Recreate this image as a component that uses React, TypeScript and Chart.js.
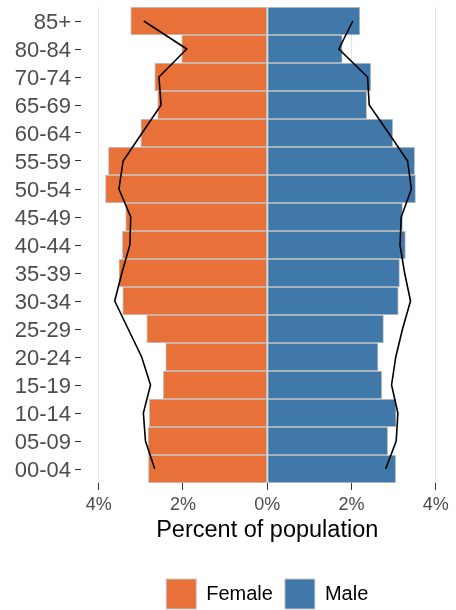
import React, { useEffect, useRef } from "react";
import { Chart, registerables } from "chart.js";

Chart.register(...registerables);

// Age groups, bottom (youngest) to top (oldest); note 75-79 is absent in the source
const ageGroups = [
  "00-04", "05-09", "10-14", "15-19", "20-24", "25-29", "30-34", "35-39",
  "40-44", "45-49", "50-54", "55-59", "60-64", "65-69", "70-74", "80-84", "85+",
];

// Percent of population (bars)
const femalePct = [2.82, 2.83, 2.80, 2.47, 2.41, 2.86, 3.43, 3.52, 3.44, 3.36, 3.84, 3.77, 3.00, 2.60, 2.67, 2.03, 3.24];
const malePct = [3.05, 2.86, 3.06, 2.72, 2.63, 2.76, 3.11, 3.14, 3.28, 3.21, 3.52, 3.50, 2.98, 2.36, 2.46, 1.78, 2.20];

// Comparison population (black outline)
const femaleRefPct = [2.67, 2.89, 2.94, 2.77, 2.98, 3.30, 3.62, 3.45, 3.26, 3.24, 3.52, 3.42, 2.97, 2.52, 2.57, 1.91, 2.93];
const maleRefPct = [2.81, 3.06, 3.10, 2.95, 3.05, 3.21, 3.40, 3.26, 3.15, 3.18, 3.42, 3.33, 2.88, 2.42, 2.38, 1.70, 2.03];

const xTickValues = [-4, -2, 0, 2, 4];
const seriesNames = ["Female", "Male"];

const FONT = "'Liberation Sans', Arial, Helvetica, sans-serif";

export default function App() {
  const canvasRef = useRef<HTMLCanvasElement>(null);

  useEffect(() => {
    if (!canvasRef.current) return;
    Chart.defaults.font.family = FONT;
    const chart = new Chart(canvasRef.current, {
      type: "bar",
      data: {
        labels: ageGroups,
        datasets: [
          {
            label: seriesNames[0],
            data: femalePct.map((v) => -v),
            backgroundColor: "#E8713A",
            borderColor: "#c8c8c8",
            borderWidth: 1,
            borderSkipped: false,
            barPercentage: 1,
            categoryPercentage: 1,
            order: 2,
          },
          {
            label: seriesNames[1],
            data: malePct,
            backgroundColor: "#4178AA",
            borderColor: "#c8c8c8",
            borderWidth: 1,
            borderSkipped: false,
            barPercentage: 1,
            categoryPercentage: 1,
            order: 2,
          },
          {
            type: "line",
            label: "Female reference",
            data: femaleRefPct.map((v) => -v),
            borderColor: "#000000",
            borderWidth: 1.6,
            pointRadius: 0,
            fill: false,
            tension: 0,
            indexAxis: "y",
            stack: "femaleRef",
            order: 1,
          } as any,
          {
            type: "line",
            label: "Male reference",
            data: maleRefPct,
            borderColor: "#000000",
            borderWidth: 1.6,
            pointRadius: 0,
            fill: false,
            tension: 0,
            indexAxis: "y",
            stack: "maleRef",
            order: 1,
          } as any,
        ],
      },
      options: {
        indexAxis: "y",
        animation: false,
        responsive: false,
        maintainAspectRatio: false,
        layout: { padding: { top: 7, bottom: -9, left: 0, right: 2.5 } },
        scales: {
          x: {
            type: "linear",
            stacked: true,
            min: -4.42,
            max: 4.42,
            afterBuildTicks: (s: any) => {
              s.ticks = xTickValues.map((v) => ({ value: v }));
            },
            afterFit: (s: any) => {
              s.height = 84;
            },
            grid: {
              color: "#e3e3e3",
              lineWidth: 1,
              tickColor: "#333333",
              tickLength: 7,
              tickWidth: 1,
            },
            border: { display: false },
            ticks: {
              color: "#4d4d4d",
              font: { family: FONT, size: 18 },
              padding: 4,
              maxRotation: 0,
              callback: (v: any) => Math.abs(Number(v)) + "%",
            },
            title: {
              display: true,
              text: "Percent of population",
              color: "#000000",
              font: { family: FONT, size: 23.5 },
              padding: { top: 0, bottom: 22 },
            },
          },
          y: {
            type: "category",
            stacked: true,
            reverse: true,
            offset: true,
            afterFit: (s: any) => {
              s.width = 81;
              s.paddingTop = 0;
              s.paddingBottom = 0;
            },
            grid: {
              display: true,
              drawOnChartArea: false,
              offset: false,
              tickColor: "#333333",
              tickLength: 6,
              tickWidth: 1,
            },
            border: { display: false },
            ticks: {
              color: "#4d4d4d",
              font: { family: FONT, size: 22 },
              padding: 4,
              labelOffset: 1.5,
              autoSkip: false,
            },
          },
        },
        plugins: {
          legend: {
            position: "bottom",
            fullSize: false,
            labels: {
              boxWidth: 30,
              boxHeight: 30,
              padding: 12,
              color: "#000000",
              font: { family: FONT, size: 20 },
              filter: (item: any) => item.datasetIndex < 2,
            },
          },
          tooltip: { enabled: false },
          title: { display: false },
        },
      } as any,
    });
    return () => chart.destroy();
  }, []);

  return (
    <div style={{ position: "absolute", left: 0, top: 0, width: 456, height: 610, background: "#ffffff" }}>
      <canvas ref={canvasRef} width={456} height={610} style={{ display: "block" }} />
    </div>
  );
}
